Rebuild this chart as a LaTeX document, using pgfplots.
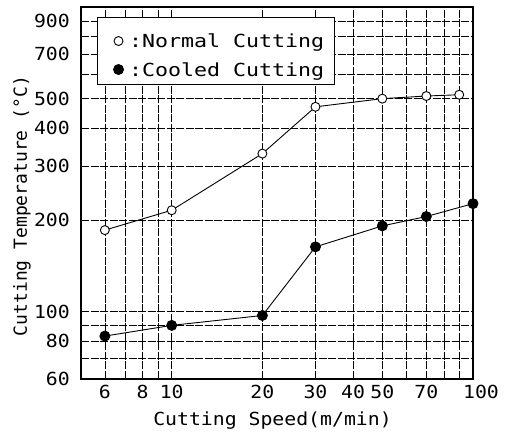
\documentclass[border=0pt]{standalone}
\usepackage{pgfplots}
\pgfplotsset{compat=1.18}
\usepackage{fontspec}
\newfontfamily\plotfont[FakeStretch=1.1]{DejaVu Sans Mono}
\newfontfamily\plotfontn{DejaVu Sans Mono}
\newfontfamily\plotfontw[FakeStretch=1.2]{DejaVu Sans Mono}
\pgfplotstableread{
x y
6 185
10 215
20 330
30 470
50 500
70 510
90 515
}\normaltab
\pgfplotstableread{
x y
6 83
10 90
20 97
30 163
50 191
70 205
100 226
}\cooledtab
\begin{document}
\begin{tikzpicture}
\begin{axis}[
  at={(0pt,0pt)}, anchor=south west,
  scale only axis, width=392pt, height=372pt,
  xmode=log, ymode=log,
  xmin=5, xmax=100, ymin=60, ymax=1000,
  xtick={6,8,10,20,30,40,50,70,100},
  xticklabels={6,8,10,20,30,40,50,70,\hspace*{16pt}100},
  minor xtick={7,9,60,80,90},
  ytick={60,80,100,200,300,400,500,700,900},
  yticklabels={60,80,100,200,300,400,500,700,900},
  minor ytick={70,90,600,800,1000},
  grid=both,
  major grid style={black, line width=0.5pt, dash pattern=on 8pt off 1.5pt},
  minor grid style={black, line width=0.5pt, dash pattern=on 8pt off 1.5pt},
  major tick length=0pt, minor tick length=0pt,
  axis line style={line width=1.2pt},
  tick label style={font=\fontsize{18}{20}\plotfont, inner sep=0pt},
  xticklabel style={anchor=base, yshift=-20pt},
  yticklabel style={anchor=east, xshift=-11pt},
  xlabel={Cutting Speed(m/min)},
  xlabel style={font=\fontsize{18}{20}\plotfont, at={(axis description cs:0.4885,0)}, anchor=base, yshift=-46pt, inner sep=0pt},
  ylabel={Cutting Temperature (°C)},
  ylabel style={font=\fontsize{18}{20}\plotfontn, at={(axis description cs:-0.1378,0.465)}, anchor=base, inner sep=0pt},
  legend style={at={(0.041,0.973)}, anchor=north west, draw=black, line width=1pt, fill=white,
    font=\fontsize{18}{20}\plotfontw, row sep=0.5pt, column sep=5.5pt,
    inner xsep=10.5pt, inner ysep=5pt,
    nodes={inner sep=0pt, text height=25pt, text depth=3pt},
    cells={anchor=base west}},
  legend image code/.code={\path (-10pt,0pt); \draw[#1] plot[only marks] coordinates {(0pt,6.5pt)};},
]
\addplot[black, line width=0.9pt, mark=*, mark size=4.5pt, mark options={fill=white, line width=0.9pt}] table[x=x,y=y] {\normaltab};
\addlegendentry{:Normal Cutting}
\addplot[black, line width=0.9pt, mark=*, mark size=5pt, mark options={fill=black}] table[x=x,y=y] {\cooledtab};
\addlegendentry{:Cooled Cutting}
\end{axis}
\pgfresetboundingbox
\useasboundingbox (-81pt,-53pt) rectangle (424pt,379pt);
\end{tikzpicture}
\end{document}
